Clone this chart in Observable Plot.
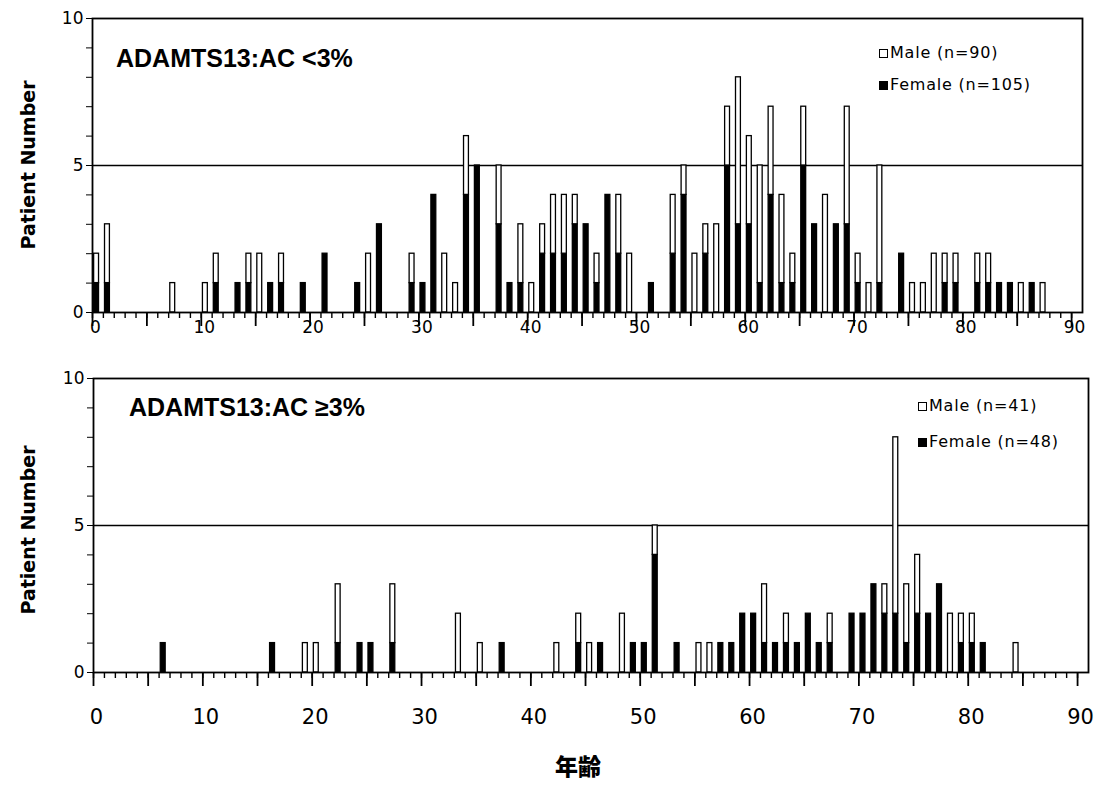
<!DOCTYPE html>
<html>
<head>
<meta charset="utf-8">
<script src="https://cdn.jsdelivr.net/npm/d3@7"></script>
<script src="https://cdn.jsdelivr.net/npm/@observablehq/plot@0.6"></script>
<style>
  html, body { margin: 0; padding: 0; background: #fff; }
  #wrap { position: relative; width: 1099px; height: 786px; overflow: hidden; font-family: "DejaVu Sans", sans-serif; color: #000; }
  #wrap svg { display: block; }
  .ov { position: absolute; white-space: nowrap; line-height: 1; }
  .ytitle { font-weight: bold; font-size: 19px; transform: translate(-50%, -50%) rotate(-90deg); }
  .ptitle { font-family: "Liberation Sans", Arial, sans-serif; font-weight: bold; font-size: 25px; transform: translateY(-50%); }
  .leg { font-size: 16px; letter-spacing: 0.8px; transform: translateY(-50%); display: flex; align-items: center; }
  .box { display: inline-block; width: 7px; height: 7px; border: 1.5px solid #000; margin-right: 2px; }
  .box.f { background: #000; }
  .xtitle { font-family: "Noto Sans CJK JP", sans-serif; font-weight: 900; font-size: 23px; transform: translate(-50%, -50%); }
</style>
</head>
<body>
<div id="wrap">
  <div id="top"></div>
  <div id="bottom"></div>
</div>
<script>
// ---- Panel 1: ADAMTS13:AC <3% ----
const ages1   = [0,1,7,10,11,13,14,15,16,17,19,21,24,25,26,29,30,31,32,33,34,35,37,38,39,40,41,42,43,44,45,46,47,48,49,51,53,54,55,56,57,58,59,60,61,62,63,64,65,66,67,68,69,70,71,72,74,75,76,77,78,79,81,82,83,84,85,86,87];
const female1 = [1,1,0,0,1,1,1,0,1,1,1,2,1,0,3,1,1,4,0,0,4,5,3,1,1,0,2,2,2,3,3,1,4,2,0,1,2,4,0,2,0,5,3,3,1,4,1,1,5,3,0,3,3,1,0,1,2,0,0,0,1,1,1,1,1,1,0,1,0];
const male1   = [1,2,1,1,1,0,1,2,0,1,0,0,0,2,0,1,0,0,2,1,2,0,2,0,2,1,1,2,2,1,0,1,0,2,2,0,2,1,2,1,3,2,5,3,4,3,3,1,2,0,4,0,4,1,1,4,0,1,1,2,1,1,1,1,0,0,1,0,1];

// ---- Panel 2: ADAMTS13:AC >=3% ----
const ages2   = [6,16,19,20,22,24,25,27,33,35,37,42,44,45,46,48,49,50,51,53,55,56,57,58,59,60,61,62,63,64,65,66,67,69,70,71,72,73,74,75,76,77,78,79,80,81,84];
const female2 = [1,1,0,0,1,1,1,1,0,0,1,0,1,0,1,0,1,1,4,1,0,0,1,1,2,2,1,1,1,1,2,1,1,2,2,3,2,2,1,2,2,3,0,1,1,1,0];
const male2   = [0,0,1,1,2,0,0,2,2,1,0,1,1,1,0,2,0,0,1,0,1,1,0,0,0,0,2,0,1,0,0,0,1,0,0,0,1,6,2,2,0,0,2,1,1,0,1];

const xTicks = d3.range(0, 91, 1);
const xMajor = d3.range(0, 91, 5);
const xLabels = d3.range(0, 91, 10);
const yTicks = d3.range(0, 11, 1);

function rows(ages, fem, mal) {
  const out = [];
  ages.forEach((a, i) => {
    if (fem[i] > 0) out.push({age: a, sex: "Female", y1: 0, y2: fem[i]});
    if (mal[i] > 0) out.push({age: a, sex: "Male", y1: fem[i], y2: fem[i] + mal[i]});
  });
  return out;
}

function panel({ages, fem, mal, height, mt, mb, ml, mr, labelPad, labelSize}) {
  const data = rows(ages, fem, mal);
  return Plot.plot({
    width: 1099,
    height,
    marginTop: mt, marginBottom: mb, marginLeft: ml, marginRight: mr,
    style: {fontFamily: "DejaVu Sans, sans-serif", background: "white", color: "black"},
    x: {domain: [0, 91], label: null},
    y: {domain: [0, 10], label: null},
    marks: [
      Plot.ruleY([5], {stroke: "black", strokeWidth: 1.6}),
      Plot.rectY(data, {
        x1: d => d.age + 0.15,
        x2: d => d.age + 0.6,
        y1: "y1", y2: "y2",
        fill: d => d.sex === "Female" ? "black" : "white",
        stroke: "black", strokeWidth: 1.3
      }),
      Plot.frame({stroke: "black", strokeWidth: 1.8}),
      Plot.axisY({ticks: yTicks, tickSize: 6, tickPadding: 3, fontSize: 17,
        tickFormat: d => d % 5 === 0 ? String(d) : "", label: null}),
      Plot.axisX({ticks: xTicks, tickSize: 6, tickFormat: () => "", label: null, strokeWidth: 1.4}),
      Plot.axisX({ticks: xMajor, tickSize: 14, tickFormat: () => "", label: null, strokeWidth: 1.8}),
      Plot.axisX({ticks: xLabels, tickSize: 0, tickPadding: labelPad, fontSize: labelSize, dx: 3,
        tickFormat: d => String(d), label: null})
    ]
  });
}

document.getElementById("top").append(panel({
  ages: ages1, fem: female1, mal: male1,
  height: 345, mt: 18, mb: 33, ml: 92, mr: 17, labelPad: 8, labelSize: 17
}));
document.getElementById("bottom").append(panel({
  ages: ages2, fem: female2, mal: male2,
  height: 441, mt: 33, mb: 114, ml: 93, mr: 11, labelPad: 37, labelSize: 21
}));

// ---- Text overlays ----
const wrap = document.getElementById("wrap");
function ov(html, cls, left, top) {
  const d = document.createElement("div");
  d.className = "ov " + cls;
  d.style.left = left + "px";
  d.style.top = top + "px";
  d.innerHTML = html;
  wrap.append(d);
}
ov("Patient Number", "ytitle", 28, 165);
ov("Patient Number", "ytitle", 28, 530);
ov("ADAMTS13:AC &lt;3%", "ptitle", 116, 58);
ov("ADAMTS13:AC ≥3%", "ptitle", 129, 407);
ov('<span class="box"></span>Male (n=90)', "leg", 879, 53);
ov('<span class="box f"></span>Female (n=105)', "leg", 879, 85);
ov('<span class="box"></span>Male (n=41)', "leg", 918, 406);
ov('<span class="box f"></span>Female (n=48)', "leg", 918, 442);
ov("年齢", "xtitle", 578, 765);
</script>
</body>
</html>
